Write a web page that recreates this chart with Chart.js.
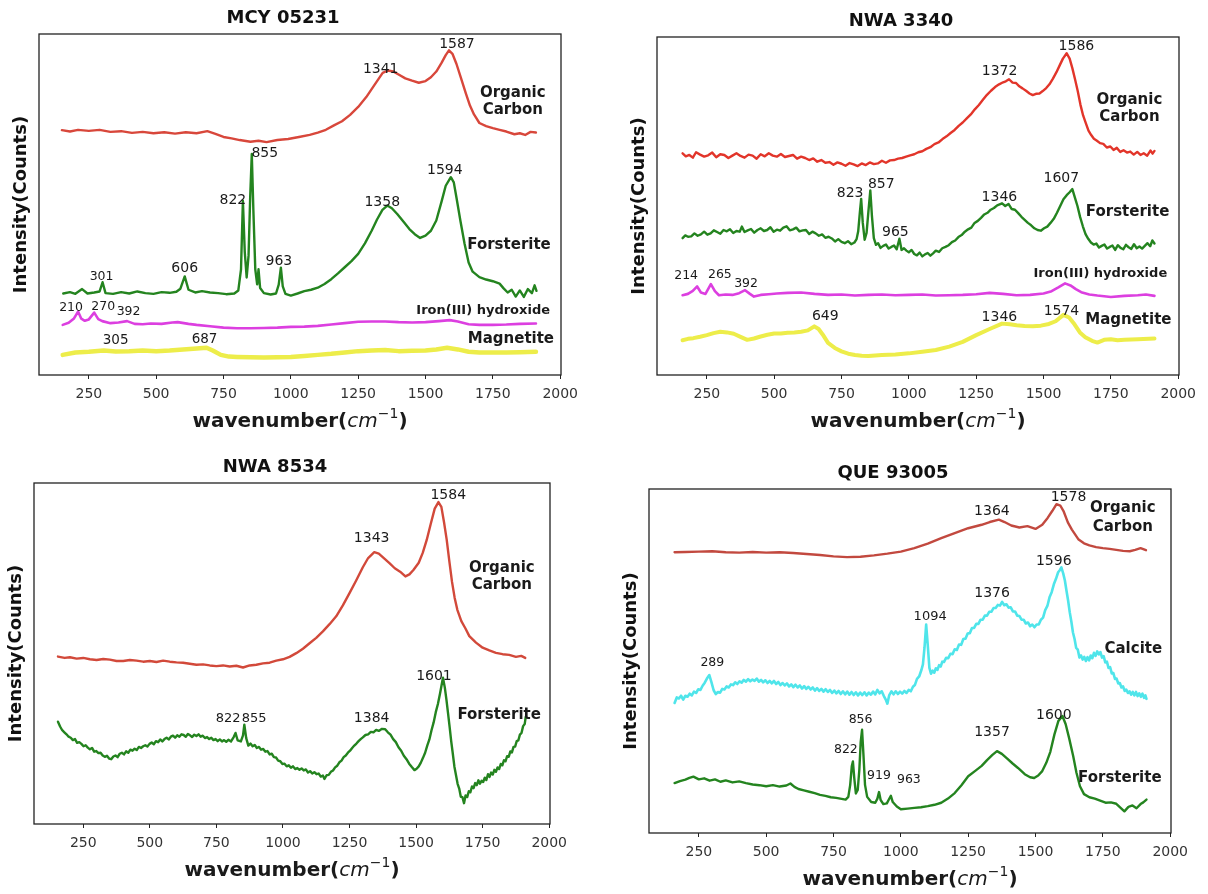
<!DOCTYPE html>
<html>
<head>
<meta charset="utf-8">
<script src="https://cdn.jsdelivr.net/npm/chart.js@4.4.1/dist/chart.umd.min.js"></script>
<style>
  html, body { margin: 0; padding: 0; background: #ffffff; }
  body { width: 1208px; height: 894px; position: relative; overflow: hidden; }
  canvas { position: absolute; }
</style>
</head>
<body>
<canvas id="c1"></canvas>
<canvas id="c2"></canvas>
<canvas id="c3"></canvas>
<canvas id="c4"></canvas>
<script>
// ---------- shared axis data ----------
const xTicks = [250, 500, 750, 1000, 1250, 1500, 1750, 2000];
const xRange = [65, 2003];

// ---------- MCY 05231 spectra: [wavenumber, intensity] ----------
const mcyOrganic = [[150,71.8],[180,71.4],[210,71.9],[250,71.6],[290,71.9],[330,71.3],[370,71.5],[410,71.0],[450,71.3],[490,70.9],[530,71.2],[570,70.8],[610,71.2],[650,70.9],[690,71.5],[720,70.7],[750,69.8],[780,69.4],[810,68.9],[850,68.4],[880,68.7],[910,68.3],[950,68.9],[990,69.2],[1030,69.8],[1070,70.4],[1100,71.1],[1130,71.9],[1160,73.2],[1190,74.4],[1220,76.3],[1250,78.6],[1280,81.5],[1310,85.0],[1341,88.6],[1360,89.3],[1380,89.0],[1400,88.1],[1425,87.0],[1450,86.3],[1475,85.7],[1500,86.2],[1520,87.3],[1540,89.0],[1560,91.6],[1575,93.8],[1587,95.2],[1600,94.2],[1615,91.2],[1630,87.5],[1650,82.5],[1665,79.0],[1680,76.4],[1700,73.9],[1725,73.0],[1750,72.4],[1775,71.9],[1800,71.4],[1830,70.6],[1850,70.9],[1870,70.4],[1890,71.3],[1910,71.1]];
const mcyForsterite = [[155,23.9],[180,24.3],[200,23.8],[225,25.2],[245,23.9],[270,24.2],[290,24.5],[301,27.2],[312,24.0],[340,23.8],[370,24.3],[400,23.9],[430,24.5],[460,24.0],[490,23.8],[520,24.3],[550,24.1],[575,24.4],[590,25.3],[606,28.9],[620,25.0],[645,24.2],[670,24.6],[700,24.2],[730,24.0],[760,23.7],[790,23.9],[805,24.8],[815,31.0],[822,51.1],[829,36.0],[836,28.6],[843,35.0],[849,52.0],[855,64.8],[861,48.0],[868,31.0],[875,26.6],[880,31.0],[886,25.5],[900,24.0],[925,23.6],[945,23.9],[955,26.5],[963,31.5],[970,26.0],[980,23.8],[1000,23.3],[1025,23.9],[1050,24.6],[1075,25.0],[1100,25.6],[1125,26.7],[1150,28.1],[1175,29.8],[1200,31.6],[1225,33.4],[1250,35.5],[1275,38.6],[1300,42.3],[1320,45.6],[1340,48.4],[1358,49.7],[1375,48.9],[1395,47.2],[1420,44.8],[1440,42.8],[1460,41.3],[1480,40.2],[1500,40.9],[1520,42.3],[1540,45.3],[1560,51.0],[1575,55.5],[1594,58.0],[1605,56.5],[1615,52.0],[1630,45.0],[1645,38.5],[1660,33.0],[1675,30.3],[1700,28.7],[1725,28.0],[1750,27.5],[1775,26.8],[1790,25.4],[1805,24.2],[1820,25.0],[1835,23.0],[1850,24.8],[1865,22.9],[1880,25.2],[1895,24.0],[1905,26.3],[1912,24.7]];
const mcyIron = [[153,14.7],[175,15.3],[195,16.6],[210,18.6],[222,16.5],[235,15.9],[250,16.3],[270,18.3],[285,16.4],[300,15.8],[330,15.2],[360,15.4],[392,15.8],[420,15.0],[450,14.9],[480,15.1],[520,15.0],[560,15.4],[580,15.5],[620,15.0],[650,14.7],[700,14.3],[750,13.9],[800,13.7],[850,13.7],[900,13.8],[950,13.9],[1000,14.1],[1050,14.2],[1100,14.4],[1150,14.8],[1200,15.2],[1250,15.6],[1300,15.7],[1350,15.7],[1400,15.5],[1450,15.4],[1500,15.5],[1550,15.8],[1590,16.1],[1620,15.7],[1660,14.9],[1700,14.7],[1750,14.7],[1800,14.8],[1850,15.0],[1910,15.1]];
const mcyMagnetite = [[153,5.9],[200,6.6],[250,6.8],[305,7.2],[350,6.9],[400,7.0],[450,7.2],[500,7.0],[550,7.2],[600,7.5],[650,7.8],[687,8.0],[710,7.2],[740,5.9],[770,5.4],[800,5.3],[850,5.2],[900,5.1],[950,5.2],[1000,5.3],[1050,5.6],[1100,5.9],[1150,6.2],[1200,6.6],[1250,7.0],[1300,7.2],[1350,7.3],[1400,7.0],[1450,7.1],[1500,7.2],[1540,7.5],[1580,8.0],[1620,7.5],[1660,6.8],[1700,6.6],[1750,6.6],[1800,6.6],[1850,6.7],[1910,6.8]];
const mcyOrganicPeaks = [1341, 1587];
const mcyForsteritePeaks = [301, 606, 822, 855, 963, 1358, 1594];
const mcyIronPeaks = [210, 270, 392];
const mcyMagnetitePeaks = [305, 687];

// ---------- NWA 3340 spectra ----------
const n3340Organic = [[160,65.6],[172,64.7],[185,65.1],[198,64.3],[210,65.9],[225,65.2],[240,64.6],[255,65.0],[270,65.8],[285,64.4],[300,65.3],[315,65.1],[330,64.2],[345,64.9],[360,65.6],[375,64.8],[390,64.3],[405,65.2],[420,64.9],[435,64.0],[450,65.3],[465,64.7],[480,65.6],[495,64.9],[510,64.6],[525,65.4],[540,64.5],[555,64.8],[570,65.1],[585,64.0],[600,64.6],[615,64.2],[630,63.6],[645,64.1],[660,63.1],[675,63.6],[690,62.8],[705,63.0],[720,62.2],[735,62.9],[750,62.5],[765,61.9],[780,62.7],[795,62.3],[810,61.8],[825,62.6],[840,62.1],[855,62.9],[870,62.4],[885,62.6],[900,63.4],[915,62.8],[930,63.5],[945,63.6],[960,64.0],[975,64.2],[990,64.6],[1005,65.0],[1020,65.3],[1035,65.9],[1050,66.2],[1065,66.9],[1080,67.4],[1095,68.3],[1110,68.8],[1125,69.8],[1140,70.6],[1155,71.6],[1170,72.5],[1185,73.7],[1200,74.7],[1215,75.9],[1230,77.1],[1245,78.6],[1260,79.9],[1275,81.4],[1290,82.9],[1305,84.1],[1320,85.2],[1335,86.0],[1350,86.6],[1360,86.9],[1372,87.5],[1385,86.5],[1398,86.4],[1410,85.4],[1422,84.8],[1435,84.1],[1448,83.3],[1460,82.8],[1472,83.2],[1485,83.3],[1497,84.0],[1510,84.9],[1522,86.0],[1535,87.7],[1548,89.6],[1560,91.6],[1572,93.6],[1586,95.2],[1597,93.6],[1607,90.8],[1617,87.5],[1627,84.0],[1637,80.0],[1647,76.8],[1657,74.5],[1667,72.3],[1677,71.0],[1687,69.9],[1697,69.4],[1710,68.6],[1722,68.4],[1735,67.3],[1748,67.6],[1760,66.6],[1772,67.2],[1785,66.0],[1797,66.5],[1810,65.8],[1822,66.1],[1835,65.2],[1848,66.0],[1860,65.1],[1872,65.6],[1885,64.9],[1897,66.4],[1905,65.5],[1912,66.3]];
const n3340Forsterite = [[160,40.5],[170,41.3],[180,40.9],[192,41.0],[204,41.9],[216,41.2],[228,41.6],[240,42.4],[252,41.5],[264,41.9],[276,42.8],[288,42.3],[300,41.8],[312,42.9],[324,42.5],[336,43.1],[348,42.0],[360,42.6],[372,42.4],[380,43.9],[390,42.3],[402,42.8],[414,43.2],[426,42.1],[438,42.9],[450,43.4],[462,42.6],[474,42.9],[486,43.7],[498,42.4],[510,43.0],[522,42.7],[534,43.6],[546,44.0],[558,42.8],[570,43.1],[582,43.6],[594,42.5],[606,42.8],[618,42.9],[630,41.7],[642,42.4],[654,41.9],[666,41.2],[678,41.6],[690,40.6],[702,40.9],[714,40.4],[726,39.5],[738,40.2],[750,39.4],[762,39.0],[774,39.6],[786,38.7],[798,39.2],[806,40.2],[812,42.5],[818,48.0],[823,52.1],[829,45.0],[836,40.0],[843,42.0],[850,48.5],[857,54.6],[863,47.0],[870,40.5],[878,38.5],[886,39.0],[895,37.6],[905,38.2],[915,38.6],[925,37.4],[935,37.9],[945,38.3],[955,37.2],[965,40.3],[973,37.0],[982,37.5],[991,36.8],[1000,36.3],[1010,37.0],[1020,35.8],[1030,35.4],[1040,36.2],[1050,35.1],[1060,35.7],[1070,36.1],[1080,35.3],[1090,36.0],[1100,36.8],[1112,36.4],[1124,37.5],[1136,37.9],[1148,38.4],[1160,39.3],[1172,39.8],[1184,40.8],[1196,41.4],[1208,42.4],[1220,43.1],[1232,43.6],[1244,45.0],[1256,45.6],[1268,46.5],[1280,47.5],[1292,48.0],[1304,48.9],[1316,49.4],[1328,50.2],[1346,50.8],[1358,50.0],[1370,50.6],[1382,49.1],[1394,48.9],[1406,47.9],[1418,46.8],[1430,45.9],[1442,45.0],[1454,44.3],[1466,43.4],[1478,42.9],[1490,42.7],[1502,43.4],[1514,43.9],[1526,45.0],[1538,46.2],[1550,48.0],[1562,50.0],[1574,52.0],[1586,53.2],[1596,54.0],[1607,55.0],[1616,52.6],[1626,50.0],[1636,46.7],[1646,44.0],[1656,41.7],[1666,40.3],[1676,39.2],[1686,38.6],[1696,38.9],[1706,37.7],[1716,38.2],[1726,38.6],[1736,37.4],[1746,37.9],[1756,38.3],[1766,37.0],[1776,38.4],[1786,37.6],[1796,37.2],[1806,38.5],[1816,37.8],[1826,37.3],[1836,38.7],[1846,37.5],[1856,38.0],[1866,37.4],[1876,38.2],[1886,39.0],[1896,38.1],[1904,39.8],[1912,38.9]];
const n3340Iron = [[160,23.6],[180,24.0],[198,24.9],[214,26.2],[228,24.4],[245,24.0],[265,26.9],[280,24.8],[295,23.6],[320,23.8],[345,23.7],[370,24.2],[392,25.1],[410,24.0],[425,23.2],[450,23.7],[480,23.9],[510,24.1],[550,24.3],[600,24.4],[650,24.0],[700,23.7],[750,23.8],[800,23.5],[850,23.7],[900,23.8],[950,23.6],[1000,23.7],[1050,23.8],[1100,23.5],[1150,23.6],[1200,23.7],[1250,23.9],[1300,24.3],[1350,24.0],[1400,23.6],[1450,23.7],[1500,24.1],[1530,24.8],[1555,25.9],[1580,27.1],[1600,26.5],[1620,25.4],[1640,24.5],[1670,23.8],[1700,23.5],[1750,23.1],[1800,23.4],[1850,23.6],[1880,23.8],[1912,23.4]];
const n3340Magnetite = [[160,10.3],[180,10.7],[200,10.9],[225,11.3],[250,11.8],[275,12.4],[300,12.8],[325,12.6],[350,12.2],[375,11.3],[400,10.4],[425,10.8],[450,11.4],[475,11.9],[500,12.3],[525,12.3],[550,12.5],[575,12.6],[600,12.8],[625,13.2],[649,14.4],[665,13.6],[680,12.0],[700,9.5],[725,8.0],[750,7.0],[775,6.3],[800,5.9],[825,5.7],[850,5.6],[875,5.8],[900,5.9],[950,6.1],[1000,6.4],[1050,6.9],[1100,7.4],[1150,8.4],[1200,9.8],[1250,11.8],[1300,13.6],[1346,15.2],[1375,15.0],[1400,14.7],[1430,14.5],[1460,14.4],[1490,14.6],[1520,15.1],[1545,15.9],[1574,17.8],[1595,17.0],[1615,15.0],[1635,12.6],[1655,11.2],[1680,10.1],[1700,9.6],[1725,10.4],[1750,10.6],[1775,10.3],[1800,10.4],[1850,10.6],[1912,10.8]];
const n3340OrganicPeaks = [1372, 1586];
const n3340ForsteritePeaks = [823, 857, 965, 1346, 1607];
const n3340IronPeaks = [214, 265, 392];
const n3340MagnetitePeaks = [649, 1346, 1574];

// ---------- NWA 8534 spectra ----------
const n8534Organic = [[155,49.1],[180,48.7],[200,48.9],[225,48.5],[250,48.7],[275,48.3],[300,48.1],[325,48.4],[350,48.2],[375,47.8],[400,47.8],[425,48.1],[450,47.9],[475,47.6],[500,47.8],[525,47.5],[550,47.9],[575,47.6],[600,47.4],[625,47.3],[650,47.0],[675,46.7],[700,46.8],[725,46.5],[750,46.3],[775,46.5],[800,46.2],[825,46.4],[850,45.9],[875,46.5],[900,46.7],[925,47.1],[950,47.3],[975,47.9],[1000,48.3],[1025,49.0],[1050,50.1],[1075,51.4],[1100,53.0],[1125,54.6],[1150,56.5],[1175,58.6],[1200,60.9],[1225,64.1],[1250,67.7],[1275,71.4],[1300,75.3],[1320,78.0],[1343,79.7],[1360,79.3],[1380,77.9],[1400,76.5],[1420,75.0],[1440,74.0],[1460,72.6],[1475,73.2],[1490,74.5],[1510,76.6],[1525,79.5],[1540,83.3],[1555,88.0],[1570,92.5],[1584,94.4],[1595,93.0],[1605,88.5],[1615,83.4],[1625,77.0],[1635,71.0],[1645,66.3],[1655,62.8],[1670,59.5],[1685,57.4],[1700,55.1],[1725,53.2],[1750,51.7],[1775,50.9],[1800,50.2],[1825,49.8],[1850,49.6],[1875,49.0],[1895,49.3],[1910,48.7]];
const n8534Forsterite = [[155,30.0],[163,28.6],[171,27.5],[179,26.9],[187,26.3],[195,25.6],[203,25.3],[211,24.6],[219,24.9],[227,23.8],[235,24.0],[243,23.5],[251,22.8],[259,23.1],[267,22.4],[275,21.9],[283,22.3],[291,21.2],[299,21.4],[307,20.8],[315,20.9],[323,20.1],[331,19.7],[339,20.0],[347,19.2],[355,19.0],[363,19.8],[371,20.1],[379,19.6],[387,20.6],[395,20.9],[403,20.4],[411,21.3],[419,20.9],[427,21.8],[435,21.5],[443,22.1],[451,21.7],[459,22.6],[467,22.3],[475,22.8],[483,23.1],[491,22.7],[499,23.5],[507,23.9],[515,23.4],[523,24.3],[531,24.0],[539,24.8],[547,24.2],[555,24.9],[563,25.3],[571,24.8],[579,25.6],[587,25.9],[595,25.3],[603,26.0],[611,25.6],[619,26.3],[627,26.1],[635,25.6],[643,26.4],[651,26.0],[659,25.5],[667,26.2],[675,25.8],[683,26.3],[691,25.6],[699,25.9],[707,25.2],[715,25.5],[723,24.9],[731,25.3],[739,24.6],[747,24.9],[755,24.3],[763,24.8],[771,24.2],[779,24.6],[787,24.1],[795,24.7],[805,24.2],[815,25.5],[822,26.7],[830,24.5],[842,24.2],[850,26.0],[855,29.1],[862,25.2],[870,23.0],[878,23.6],[886,22.8],[894,23.2],[902,22.3],[910,22.6],[918,21.8],[926,22.0],[934,21.2],[942,21.4],[950,20.4],[958,20.6],[966,19.6],[974,19.5],[982,18.6],[990,18.4],[998,17.6],[1006,17.7],[1014,16.9],[1022,17.2],[1030,16.5],[1038,16.9],[1046,16.1],[1054,16.4],[1062,15.9],[1070,16.3],[1078,15.7],[1086,16.0],[1094,15.1],[1102,15.5],[1110,14.8],[1118,15.2],[1126,14.6],[1134,14.8],[1142,13.9],[1150,14.2],[1156,13.2],[1164,14.3],[1172,14.4],[1180,15.3],[1188,15.7],[1196,16.6],[1204,17.1],[1212,18.1],[1220,18.6],[1228,19.6],[1236,20.1],[1244,20.9],[1252,21.5],[1260,22.3],[1268,23.0],[1276,23.6],[1284,24.3],[1292,24.9],[1300,25.4],[1310,26.1],[1320,26.3],[1330,27.0],[1340,26.9],[1350,27.6],[1360,27.3],[1372,27.9],[1384,27.8],[1394,26.9],[1404,26.2],[1414,24.9],[1424,24.0],[1434,22.5],[1444,21.5],[1454,20.0],[1464,19.0],[1474,17.7],[1484,16.7],[1494,15.8],[1502,16.2],[1510,16.9],[1518,18.0],[1526,19.4],[1534,20.9],[1542,23.0],[1550,24.8],[1558,27.5],[1566,29.8],[1574,32.8],[1582,35.2],[1590,38.3],[1601,42.9],[1608,40.0],[1614,36.5],[1620,32.5],[1626,28.5],[1632,24.2],[1638,20.6],[1644,16.8],[1650,14.3],[1656,11.8],[1662,10.4],[1668,8.0],[1674,7.9],[1680,6.1],[1686,8.4],[1692,7.9],[1698,9.6],[1704,9.3],[1710,11.0],[1716,10.5],[1722,12.0],[1728,11.4],[1734,12.8],[1740,11.8],[1746,12.7],[1752,12.3],[1758,13.6],[1764,12.9],[1770,14.6],[1776,13.8],[1782,15.1],[1788,14.5],[1794,15.9],[1800,15.3],[1806,16.6],[1812,16.1],[1818,17.6],[1824,17.2],[1830,18.7],[1836,18.4],[1842,19.9],[1848,19.7],[1854,21.3],[1860,21.0],[1866,22.6],[1872,22.7],[1878,24.3],[1884,24.5],[1890,26.2],[1896,26.7],[1902,28.7],[1908,29.3],[1912,31.5]];
const n8534OrganicPeaks = [1343, 1584];
const n8534ForsteritePeaks = [822, 855, 1384, 1601];

// ---------- QUE 93005 spectra ----------
const queOrganic = [[160,81.6],[200,81.7],[250,81.8],[300,81.9],[350,81.6],[400,81.5],[450,81.7],[500,81.5],[550,81.6],[600,81.4],[650,81.1],[700,80.8],[750,80.4],[800,80.2],[850,80.3],[900,80.7],[950,81.2],[1000,81.8],[1050,82.8],[1100,84.1],[1150,85.7],[1200,87.2],[1250,88.6],[1300,89.6],[1330,90.4],[1364,91.1],[1385,90.4],[1410,89.4],[1440,88.8],[1470,89.2],[1500,88.4],[1525,89.6],[1545,91.6],[1562,93.6],[1578,95.6],[1592,95.2],[1605,93.4],[1620,90.3],[1635,88.2],[1660,85.3],[1680,84.2],[1700,83.6],[1725,83.1],[1750,82.8],[1775,82.6],[1800,82.3],[1825,82.0],[1850,81.9],[1870,82.3],[1890,82.8],[1910,82.2]];
const queCalcite = [[160,37.8],[168,39.4],[176,39.1],[184,39.9],[192,38.8],[200,39.9],[208,39.6],[216,40.5],[224,40.0],[232,41.1],[240,40.7],[248,41.8],[256,41.6],[264,42.8],[272,43.7],[280,44.9],[289,45.9],[297,43.8],[305,41.5],[313,40.4],[321,41.0],[329,40.8],[337,41.9],[345,41.7],[353,42.6],[361,42.3],[369,43.2],[377,43.0],[385,43.8],[393,43.3],[401,44.1],[409,43.7],[417,44.5],[425,44.0],[433,44.7],[441,44.1],[449,44.6],[457,44.2],[465,44.9],[473,44.0],[481,44.5],[489,43.8],[497,44.4],[505,43.6],[513,44.2],[521,43.5],[529,44.2],[537,43.3],[545,43.9],[553,43.0],[561,43.6],[569,42.9],[577,43.5],[585,42.6],[593,43.2],[601,42.4],[609,43.1],[617,42.3],[625,42.9],[633,42.0],[641,42.7],[649,41.9],[657,42.5],[665,41.7],[673,42.3],[681,41.4],[689,42.1],[697,41.3],[705,41.9],[713,41.1],[721,41.8],[729,41.0],[737,41.6],[745,40.7],[753,41.4],[761,40.6],[769,41.3],[777,40.4],[785,41.2],[793,40.3],[801,41.1],[809,40.2],[817,41.0],[825,40.1],[833,40.9],[841,40.0],[849,40.8],[857,40.1],[865,40.9],[873,40.0],[881,40.8],[889,40.2],[897,41.1],[905,40.3],[913,41.6],[921,40.6],[929,41.2],[937,39.8],[945,38.6],[950,37.6],[957,40.1],[965,41.2],[973,40.3],[981,41.2],[989,40.4],[997,41.1],[1005,40.5],[1013,41.3],[1021,40.7],[1029,41.6],[1037,41.2],[1045,42.5],[1052,43.0],[1060,44.8],[1068,45.5],[1076,47.3],[1082,49.0],[1088,54.0],[1094,60.6],[1100,54.5],[1106,48.0],[1112,46.3],[1118,47.2],[1124,46.6],[1130,47.9],[1136,47.4],[1142,48.8],[1148,48.4],[1154,49.8],[1160,49.7],[1168,50.9],[1176,50.8],[1184,52.1],[1192,52.0],[1200,53.4],[1208,53.2],[1216,54.8],[1224,54.7],[1232,56.4],[1240,56.5],[1248,58.0],[1256,58.1],[1264,59.6],[1272,59.6],[1280,60.8],[1288,60.8],[1296,62.0],[1304,62.0],[1312,63.2],[1320,63.2],[1328,64.3],[1336,64.3],[1344,65.4],[1352,65.4],[1360,66.3],[1368,66.1],[1376,67.2],[1384,66.2],[1392,66.5],[1400,65.5],[1408,65.6],[1416,64.4],[1424,64.4],[1432,63.2],[1440,63.1],[1448,62.0],[1456,62.0],[1464,60.9],[1472,61.2],[1480,60.1],[1488,60.6],[1496,59.8],[1504,60.6],[1512,60.6],[1520,62.0],[1528,62.6],[1536,64.8],[1544,66.0],[1552,68.5],[1560,70.0],[1568,72.3],[1576,73.9],[1584,75.8],[1590,76.4],[1596,77.2],[1603,75.4],[1609,73.4],[1615,70.4],[1621,67.6],[1627,64.2],[1633,61.5],[1639,58.3],[1645,56.4],[1651,53.8],[1657,53.3],[1663,51.0],[1669,51.6],[1675,50.4],[1681,51.2],[1687,50.0],[1693,51.1],[1699,50.2],[1705,51.6],[1711,50.8],[1717,52.4],[1723,51.5],[1729,52.8],[1735,51.9],[1741,52.6],[1747,51.0],[1753,51.4],[1759,49.6],[1765,49.8],[1771,48.0],[1777,48.2],[1783,46.4],[1789,46.5],[1795,44.8],[1801,44.9],[1807,43.5],[1813,43.6],[1819,42.3],[1825,42.6],[1831,41.3],[1837,41.7],[1843,40.7],[1849,41.2],[1855,40.2],[1861,41.0],[1867,40.0],[1873,41.0],[1879,39.8],[1885,40.6],[1891,39.6],[1897,40.5],[1903,39.3],[1908,40.0],[1912,39.0]];
const queForsterite = [[160,14.5],[180,15.1],[200,15.5],[215,16.0],[230,16.4],[250,15.6],[270,15.9],[290,15.2],[310,15.6],[330,14.9],[350,15.3],[375,14.7],[400,15.0],[425,14.5],[450,14.1],[475,13.9],[500,13.6],[525,13.9],[550,13.5],[575,13.8],[590,14.4],[605,13.4],[620,12.8],[640,12.4],[660,12.0],[680,11.6],[700,11.1],[720,10.8],[740,10.4],[760,10.2],[780,9.9],[795,9.7],[805,10.5],[812,14.0],[818,19.5],[822,20.8],[827,16.0],[833,11.5],[840,12.5],[846,18.5],[851,26.5],[856,30.0],[861,23.0],[867,14.0],[875,10.5],[890,9.0],[905,8.8],[913,10.0],[919,11.9],[925,9.6],[935,8.4],[948,8.6],[956,9.8],[963,10.8],[970,9.0],[985,7.7],[1000,6.9],[1025,7.1],[1050,7.3],[1075,7.5],[1100,7.8],[1125,8.2],[1150,8.8],[1175,10.0],[1200,11.6],[1225,13.9],[1250,16.5],[1275,18.0],[1300,19.5],[1320,21.2],[1340,22.7],[1357,23.8],[1375,23.0],[1395,21.6],[1415,20.2],[1435,18.9],[1460,17.1],[1480,16.2],[1495,16.0],[1510,16.7],[1525,18.0],[1540,20.4],[1555,23.6],[1570,28.6],[1585,32.6],[1600,34.0],[1612,31.6],[1625,27.5],[1640,22.3],[1652,17.5],[1665,13.6],[1680,11.3],[1700,10.4],[1720,10.0],[1740,9.4],[1760,8.8],[1780,8.9],[1800,8.5],[1815,7.4],[1830,6.3],[1845,7.6],[1860,8.0],[1875,7.2],[1890,8.4],[1900,8.9],[1912,9.7]];
const queOrganicPeaks = [1364, 1578];
const queCalcitePeaks = [289, 1094, 1376, 1596];
const queForsteritePeaks = [822, 856, 919, 963, 1357, 1600];

// ---------- styling ----------
const FONT = '"DejaVu Sans", "Liberation Sans", sans-serif';
const INK = '#1a1a1a';
const COLORS = {
  red1: '#d8473b', red2: '#e2352a', red3: '#d2493a', red4: '#c2493f',
  green: '#24841f', magenta: '#dc3fe0', yellow: '#eded4a', cyan: '#4fe5ea'
};

// panel layout: frame = plot-area box on the page (px)
// label tweaks per peak: [dx px, dy px, font px]
const panels = [
  {
    canvas: 'c1', title: 'MCY 05231', frame: { left: 39, top: 34, width: 522, height: 341 },
    series: [
      { data: mcyOrganic, color: COLORS.red1, width: 2.4, peaks: mcyOrganicPeaks, tweak: [[-2,0,14],[8,-2,14]] },
      { data: mcyForsterite, color: COLORS.green, width: 2.4, peaks: mcyForsteritePeaks,
        tweak: [[-1,-2,12.5],[0,-4,14],[-10,3,14],[13,3,14],[-2,-3,14],[-5,0,14],[-6,-3,14]] },
      { data: mcyIron, color: COLORS.magenta, width: 2.6, peaks: mcyIronPeaks, tweak: [[-7,-1,12.5],[9,-3,12.5],[1.5,-6,12.5]] },
      { data: mcyMagnetite, color: COLORS.yellow, width: 4.5, peaks: mcyMagnetitePeaks, tweak: [[12,-6,13.5],[-2,-5,13.5]] }
    ],
    tags: [['Organic',1824,82.7,15],['Carbon',1824,77.7,15],['Forsterite',1810,38.1,15],
           ['Iron(III) hydroxide',1714,18.8,13],['Magnetite',1817,10.5,15]]
  },
  {
    canvas: 'c2', title: 'NWA 3340', frame: { left: 657, top: 37, width: 522, height: 338 },
    series: [
      { data: n3340Organic, color: COLORS.red2, width: 2.4, peaks: n3340OrganicPeaks, tweak: [[-9.5,-4,14],[9.7,-3,14]] },
      { data: n3340Forsterite, color: COLORS.green, width: 2.4, peaks: n3340ForsteritePeaks,
        tweak: [[-11,-2,14],[11,-2,14],[-4,-3,14],[-2.6,-2,14],[-11,-7,14]] },
      { data: n3340Iron, color: COLORS.magenta, width: 2.6, peaks: n3340IronPeaks, tweak: [[-11,-7,12.5],[9,-6,12.5],[1,-3,12.5]] },
      { data: n3340Magnetite, color: COLORS.yellow, width: 4, peaks: n3340MagnetitePeaks, tweak: [[11,-6,14],[-2.6,-3,14],[-2,0,14]] }
    ],
    tags: [['Organic',1819,81.4,15],['Carbon',1819,76.4,15],['Forsterite',1812,48.2,15],
           ['Iron(III) hydroxide',1711,30.0,13],['Magnetite',1815,16.2,15]]
  },
  {
    canvas: 'c3', title: 'NWA 8534', frame: { left: 34, top: 483, width: 516, height: 341 },
    series: [
      { data: n8534Organic, color: COLORS.red3, width: 2.4, peaks: n8534OrganicPeaks, tweak: [[-2.6,-10,14],[9.8,-3,14]] },
      { data: n8534Forsterite, color: COLORS.green, width: 2.4, peaks: n8534ForsteritePeaks,
        tweak: [[-7.5,-10.7,13],[9.8,-3,13],[-13.5,-7,14],[-9,2,14]] }
    ],
    tags: [['Organic',1822,75.0,15],['Carbon',1822,70.0,15],['Forsterite',1812,32.0,15]]
  },
  {
    canvas: 'c4', title: 'QUE 93005', frame: { left: 649, top: 489, width: 522, height: 344 },
    series: [
      { data: queOrganic, color: COLORS.red4, width: 2.4, peaks: queOrganicPeaks, tweak: [[-7,-5,14],[12,-3,14]] },
      { data: queCalcite, color: COLORS.cyan, width: 2.6, peaks: queCalcitePeaks,
        tweak: [[3,-9,12.5],[4,-5,13],[-10,-5,14],[-7.6,-2,14]] },
      { data: queForsterite, color: COLORS.green, width: 2.4, peaks: queForsteritePeaks,
        tweak: [[-7,-8,12.5],[-1.5,-7,12.5],[0,-13,12.5],[18,-13,12.5],[-5,-15,14],[-8.6,3,14]] }
    ],
    tags: [['Organic',1824,94.5,15],['Carbon',1824,89.0,15],['Calcite',1863,53.6,15],['Forsterite',1813,16.0,15]]
  }
];

// margins around the plot frame inside each canvas
const M = { left: 34, top: 34, right: 26, bottom: 62 };

// closes the plot box on all four sides
const framePlugin = {
  id: 'frameBox',
  afterDatasetsDraw(chart) {
    const { ctx, chartArea: a } = chart;
    ctx.save();
    ctx.strokeStyle = '#222';
    ctx.lineWidth = 1.3;
    ctx.strokeRect(a.left, a.top, a.right - a.left, a.bottom - a.top);
    ctx.restore();
  }
};

// peak value labels and species names
const labelPlugin = {
  id: 'peakLabels',
  afterDatasetsDraw(chart, args, opts) {
    const { ctx } = chart;
    const xs = chart.scales.x, ys = chart.scales.y;
    const panel = opts.panel;
    ctx.save();
    ctx.fillStyle = INK;
    ctx.textAlign = 'center';
    ctx.textBaseline = 'alphabetic';
    panel.series.forEach(s => {
      s.peaks.forEach((p, i) => {
        const pt = s.data.find(d => d[0] === p);
        const [dx, dy, size] = s.tweak[i];
        ctx.font = `${size}px ${FONT}`;
        ctx.fillText(String(p), xs.getPixelForValue(p) + dx, ys.getPixelForValue(pt[1]) + dy);
      });
    });
    ctx.textBaseline = 'middle';
    panel.tags.forEach(([text, x, y, size]) => {
      ctx.font = `bold ${size}px ${FONT}`;
      ctx.fillText(text, xs.getPixelForValue(x), ys.getPixelForValue(y));
    });
    ctx.restore();
  }
};

// x-axis title with the mathtext-style unit cm^-1
const xTitlePlugin = {
  id: 'xTitle',
  afterDraw(chart) {
    const { ctx, chartArea: a } = chart;
    const parts = [
      { t: 'wavenumber(', f: `bold 20px ${FONT}`, rise: 0 },
      { t: 'cm', f: `oblique 20px ${FONT}`, rise: 0 },
      { t: '\u22121', f: `14px ${FONT}`, rise: 9 },
      { t: ')', f: `bold 20px ${FONT}`, rise: 0 }
    ];
    ctx.save();
    let total = 0;
    parts.forEach(p => { ctx.font = p.f; p.w = ctx.measureText(p.t).width; total += p.w; });
    let x = (a.left + a.right) / 2 - total / 2;
    const base = a.bottom + 52;
    ctx.fillStyle = INK;
    ctx.textAlign = 'left';
    ctx.textBaseline = 'alphabetic';
    parts.forEach(p => { ctx.font = p.f; ctx.fillText(p.t, x, base - p.rise); x += p.w; });
    ctx.restore();
  }
};

panels.forEach(panel => {
  const cv = document.getElementById(panel.canvas);
  const w = panel.frame.width + M.left + M.right;
  const h = panel.frame.height + M.top + M.bottom;
  cv.width = w; cv.height = h;
  cv.style.width = w + 'px'; cv.style.height = h + 'px';
  cv.style.left = (panel.frame.left - M.left) + 'px';
  cv.style.top = (panel.frame.top - M.top) + 'px';

  new Chart(cv, {
    type: 'scatter',
    data: {
      datasets: panel.series.map(s => ({
        data: s.data.map(([x, y]) => ({ x, y })),
        showLine: true,
        borderColor: s.color,
        backgroundColor: s.color,
        borderWidth: s.width,
        pointRadius: 0,
        borderJoinStyle: 'round',
        borderCapStyle: 'round',
        tension: 0
      }))
    },
    options: {
      responsive: false,
      animation: false,
      devicePixelRatio: 1,
      layout: { padding: { left: 0, top: 0, right: M.right, bottom: 0 } },
      plugins: {
        legend: { display: false },
        tooltip: { enabled: false },
        title: {
          display: true, text: panel.title, color: '#111',
          font: { family: FONT, size: 18, weight: 'bold' },
          padding: { top: 7.2, bottom: 5.2 }
        },
        peakLabels: { panel }
      },
      scales: {
        x: {
          type: 'linear', min: xRange[0], max: xRange[1],
          afterBuildTicks: sc => { sc.ticks = xTicks.map(v => ({ value: v })); },
          afterFit: sc => { sc.height = M.bottom; },
          ticks: {
            autoSkip: false, maxRotation: 0, padding: 7, color: '#333',
            font: { family: FONT, size: 14 },
            callback: v => String(v)
          },
          grid: { display: true, drawOnChartArea: false, drawTicks: true, tickLength: 4, color: '#222', lineWidth: 1 },
          border: { display: false }
        },
        y: {
          type: 'linear', min: 0, max: 100,
          afterFit: sc => { sc.width = M.left; },
          ticks: { display: false },
          grid: { display: false },
          border: { display: false },
          title: {
            display: true, text: 'Intensity(Counts)', color: '#111',
            font: { family: FONT, size: 18, weight: 'bold' },
            padding: { top: 5.7, bottom: 0 }
          }
        }
      }
    },
    plugins: [framePlugin, labelPlugin, xTitlePlugin]
  });
});
</script>
</body>
</html>
